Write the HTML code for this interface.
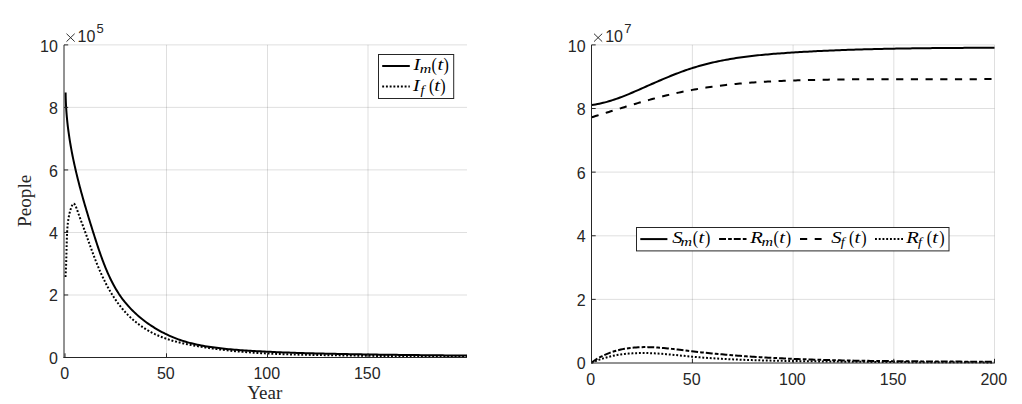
<!DOCTYPE html>
<html><head><meta charset="utf-8"><style>
html,body{margin:0;padding:0;background:#fff;}
body{width:1022px;height:404px;overflow:hidden;}
svg{display:block;}
.tk{font-family:"Liberation Sans",sans-serif;font-size:16px;fill:#262626;}
.lab{font-family:"Liberation Serif",serif;fill:#262626;}
.mi text{font-family:"Liberation Serif",serif;font-style:italic;fill:#000;}
.mi text.up{font-style:normal;}
</style></head><body>
<svg width="1022" height="404" viewBox="0 0 1022 404">
<rect width="1022" height="404" fill="#fff"/>
<path d="M166.5 44.9 V357.5 M267.5 44.9 V357.5 M368.0 44.9 V357.5" stroke="#262626" stroke-opacity="0.15" stroke-width="1" fill="none"/>
<path d="M64.0 295.0 H467.0 M64.0 232.5 H467.0 M64.0 169.9 H467.0 M64.0 107.4 H467.0 M64.0 44.9 H467.0" stroke="#262626" stroke-opacity="0.15" stroke-width="1" fill="none"/>
<path d="M65.60 92.39 L65.63 94.43 L65.67 96.46 L65.73 98.49 L65.79 100.52 L65.88 102.54 L65.97 104.56 L66.08 106.58 L66.20 108.59 L66.34 110.60 L66.48 112.60 L66.64 114.61 L66.81 116.60 L67.00 118.60 L67.19 120.59 L67.40 122.58 L67.62 124.56 L67.85 126.54 L68.10 128.52 L68.35 130.50 L68.61 132.47 L68.89 134.44 L69.18 136.41 L69.47 138.37 L69.78 140.34 L70.10 142.30 L70.43 144.25 L70.76 146.21 L71.11 148.16 L71.47 150.11 L71.83 152.06 L72.21 154.01 L72.59 155.96 L72.98 157.90 L73.39 159.84 L73.80 161.78 L74.22 163.72 L74.64 165.66 L75.08 167.59 L75.52 169.53 L75.97 171.46 L76.43 173.39 L76.89 175.32 L77.37 177.25 L77.85 179.18 L78.33 181.11 L78.83 183.04 L79.33 184.96 L79.83 186.89 L80.35 188.81 L80.86 190.74 L81.39 192.66 L81.92 194.58 L82.46 196.51 L83.00 198.43 L83.54 200.36 L84.09 202.28 L84.65 204.20 L85.21 206.13 L85.78 208.05 L86.35 209.97 L86.92 211.90 L87.50 213.82 L88.08 215.75 L88.67 217.67 L89.26 219.60 L89.85 221.53 L90.45 223.46 L91.05 225.39 L91.65 227.32 L92.25 229.25 L92.86 231.18 L93.47 233.11 L94.08 235.05 L94.70 236.98 L95.32 238.92 L95.94 240.85 L96.57 242.79 L97.20 244.72 L97.84 246.65 L98.49 248.58 L99.14 250.50 L99.80 252.42 L100.47 254.33 L101.15 256.24 L101.84 258.14 L102.54 260.04 L103.25 261.93 L103.97 263.81 L104.71 265.68 L105.46 267.54 L106.22 269.39 L107.00 271.24 L107.79 273.07 L108.61 274.89 L109.43 276.69 L110.28 278.49 L111.15 280.27 L112.04 282.04 L112.95 283.79 L113.89 285.53 L114.85 287.25 L115.83 288.95 L116.85 290.64 L117.89 292.31 L118.95 293.96 L120.05 295.59 L121.18 297.20 L122.34 298.80 L123.54 300.37 L124.76 301.92 L126.02 303.44 L127.31 304.95 L128.63 306.44 L129.98 307.90 L131.35 309.34 L132.75 310.75 L134.18 312.15 L135.64 313.52 L137.12 314.87 L138.63 316.19 L140.16 317.49 L141.71 318.76 L143.29 320.01 L144.89 321.23 L146.51 322.43 L148.14 323.60 L149.80 324.75 L151.48 325.87 L153.17 326.96 L154.88 328.03 L156.61 329.07 L158.35 330.08 L160.11 331.07 L161.88 332.02 L163.67 332.95 L165.47 333.85 L167.27 334.72 L169.09 335.56 L170.93 336.38 L172.76 337.16 L174.61 337.91 L176.47 338.64 L178.33 339.33 L180.20 339.99 L182.08 340.62 L183.96 341.22 L185.85 341.79 L187.74 342.34 L189.63 342.85 L191.54 343.34 L193.44 343.81 L195.36 344.25 L197.27 344.67 L199.19 345.07 L201.12 345.45 L203.05 345.81 L204.99 346.15 L206.93 346.47 L208.87 346.78 L210.82 347.07 L212.77 347.35 L214.72 347.61 L216.68 347.86 L218.65 348.11 L220.61 348.34 L222.58 348.56 L224.56 348.77 L226.53 348.97 L228.51 349.16 L230.50 349.34 L232.48 349.52 L234.47 349.68 L236.46 349.84 L238.46 350.00 L240.45 350.14 L242.45 350.28 L244.45 350.42 L246.46 350.55 L248.46 350.68 L250.47 350.80 L252.48 350.92 L254.49 351.04 L256.50 351.16 L258.52 351.27 L260.53 351.37 L262.55 351.48 L264.57 351.58 L266.59 351.68 L268.61 351.78 L270.63 351.87 L272.66 351.96 L274.68 352.05 L276.70 352.14 L278.73 352.22 L280.75 352.30 L282.78 352.38 L284.81 352.46 L286.83 352.54 L288.86 352.61 L290.88 352.68 L292.91 352.75 L294.94 352.82 L296.96 352.88 L298.99 352.95 L301.01 353.01 L303.04 353.07 L305.06 353.13 L307.08 353.18 L309.10 353.24 L311.12 353.29 L313.14 353.35 L315.16 353.40 L317.17 353.45 L319.19 353.50 L321.20 353.55 L323.21 353.60 L325.22 353.64 L327.23 353.69 L329.24 353.74 L331.24 353.78 L333.24 353.82 L335.24 353.87 L337.24 353.91 L339.24 353.95 L341.24 353.99 L343.24 354.03 L345.23 354.07 L347.22 354.11 L349.22 354.14 L351.21 354.18 L353.20 354.22 L355.19 354.25 L357.18 354.28 L359.16 354.32 L361.15 354.35 L363.14 354.38 L365.12 354.42 L367.11 354.45 L369.09 354.48 L371.08 354.51 L373.06 354.54 L375.05 354.57 L377.03 354.60 L379.01 354.63 L381.00 354.65 L382.98 354.68 L384.96 354.71 L386.95 354.73 L388.93 354.76 L390.91 354.79 L392.90 354.81 L394.88 354.84 L396.87 354.86 L398.85 354.89 L400.84 354.91 L402.82 354.93 L404.81 354.96 L406.80 354.98 L408.78 355.00 L410.77 355.02 L412.76 355.05 L414.75 355.07 L416.74 355.09 L418.74 355.11 L420.73 355.13 L422.72 355.15 L424.72 355.17 L426.72 355.19 L428.72 355.22 L430.72 355.24 L432.72 355.26 L434.72 355.28 L436.72 355.30 L438.73 355.32 L440.74 355.34 L442.75 355.36 L444.76 355.38 L446.77 355.40 L448.79 355.42 L450.80 355.44 L452.82 355.46 L454.84 355.48 L456.87 355.50 L458.89 355.52 L460.92 355.54 L462.95 355.56 L464.98 355.58 L467.02 355.60" stroke="#000" stroke-width="2" fill="none" stroke-linejoin="round"/>
<path d="M65.50 276.99 L65.62 275.07 L65.74 273.13 L65.84 271.18 L65.93 269.21 L66.02 267.23 L66.10 265.24 L66.17 263.24 L66.23 261.22 L66.29 259.20 L66.35 257.17 L66.40 255.14 L66.45 253.10 L66.50 251.05 L66.55 249.01 L66.60 246.96 L66.66 244.92 L66.71 242.87 L66.77 240.83 L66.83 238.79 L66.90 236.76 L66.98 234.74 L67.07 232.72 L67.19 230.71 L67.32 228.71 L67.48 226.72 L67.66 224.75 L67.88 222.79 L68.13 220.84 L68.42 218.91 L68.75 217.00 L69.13 215.10 L69.55 213.23 L70.03 211.38 L70.56 209.55 L71.15 207.75 L71.79 206.06 L72.48 204.69 L73.22 203.84 L73.98 203.71 L74.77 204.44 L75.57 205.89 L76.37 207.84 L77.18 210.06 L77.97 212.32 L78.74 214.50 L79.50 216.61 L80.25 218.64 L80.98 220.62 L81.71 222.56 L82.42 224.45 L83.12 226.32 L83.81 228.18 L84.49 230.03 L85.17 231.88 L85.84 233.73 L86.51 235.59 L87.17 237.44 L87.83 239.30 L88.49 241.15 L89.15 243.01 L89.82 244.86 L90.48 246.72 L91.15 248.58 L91.82 250.44 L92.50 252.30 L93.19 254.16 L93.89 256.02 L94.60 257.88 L95.31 259.75 L96.04 261.61 L96.79 263.47 L97.54 265.33 L98.32 267.19 L99.10 269.04 L99.90 270.90 L100.72 272.74 L101.55 274.58 L102.40 276.42 L103.26 278.24 L104.15 280.06 L105.05 281.87 L105.97 283.67 L106.90 285.46 L107.86 287.23 L108.84 288.99 L109.84 290.74 L110.86 292.47 L111.90 294.19 L112.96 295.89 L114.05 297.57 L115.16 299.23 L116.29 300.87 L117.44 302.50 L118.62 304.10 L119.83 305.68 L121.06 307.23 L122.31 308.77 L123.60 310.27 L124.91 311.75 L126.25 313.21 L127.61 314.64 L129.00 316.03 L130.43 317.40 L131.88 318.74 L133.36 320.04 L134.87 321.32 L136.41 322.56 L137.97 323.77 L139.57 324.95 L141.18 326.10 L142.82 327.21 L144.49 328.29 L146.17 329.34 L147.88 330.36 L149.61 331.34 L151.36 332.29 L153.13 333.20 L154.92 334.08 L156.73 334.92 L158.55 335.73 L160.39 336.51 L162.24 337.25 L164.11 337.96 L165.99 338.63 L167.89 339.27 L169.79 339.88 L171.71 340.46 L173.63 341.02 L175.57 341.55 L177.51 342.05 L179.47 342.53 L181.42 343.00 L183.39 343.44 L185.36 343.86 L187.33 344.27 L189.31 344.67 L191.29 345.05 L193.27 345.42 L195.25 345.78 L197.23 346.13 L199.21 346.47 L201.19 346.80 L203.18 347.12 L205.16 347.43 L207.15 347.74 L209.13 348.04 L211.11 348.32 L213.10 348.60 L215.09 348.87 L217.07 349.13 L219.06 349.39 L221.05 349.63 L223.03 349.87 L225.02 350.10 L227.01 350.33 L229.00 350.55 L230.99 350.75 L232.98 350.96 L234.97 351.15 L236.96 351.34 L238.95 351.52 L240.94 351.70 L242.93 351.87 L244.92 352.03 L246.92 352.19 L248.91 352.34 L250.90 352.49 L252.90 352.63 L254.89 352.76 L256.88 352.89 L258.88 353.02 L260.87 353.13 L262.87 353.25 L264.86 353.36 L266.86 353.46 L268.85 353.56 L270.85 353.66 L272.85 353.75 L274.84 353.84 L276.84 353.92 L278.84 354.00 L280.83 354.08 L282.83 354.15 L284.83 354.22 L286.83 354.29 L288.83 354.35 L290.82 354.41 L292.82 354.47 L294.82 354.53 L296.82 354.58 L298.82 354.63 L300.82 354.68 L302.82 354.72 L304.82 354.77 L306.82 354.81 L308.82 354.85 L310.82 354.89 L312.82 354.93 L314.82 354.96 L316.82 355.00 L318.83 355.03 L320.83 355.06 L322.83 355.10 L324.83 355.13 L326.83 355.16 L328.83 355.19 L330.84 355.22 L332.84 355.26 L334.84 355.29 L336.84 355.32 L338.85 355.35 L340.85 355.38 L342.85 355.41 L344.85 355.44 L346.86 355.48 L348.86 355.51 L350.86 355.54 L352.86 355.57 L354.87 355.60 L356.87 355.63 L358.87 355.66 L360.88 355.69 L362.88 355.72 L364.88 355.75 L366.89 355.78 L368.89 355.81 L370.89 355.84 L372.90 355.87 L374.90 355.90 L376.90 355.93 L378.91 355.96 L380.91 355.98 L382.91 356.01 L384.92 356.04 L386.92 356.07 L388.92 356.09 L390.93 356.12 L392.93 356.14 L394.93 356.17 L396.94 356.19 L398.94 356.22 L400.94 356.24 L402.95 356.26 L404.95 356.28 L406.95 356.31 L408.96 356.33 L410.96 356.35 L412.96 356.37 L414.96 356.39 L416.97 356.40 L418.97 356.42 L420.97 356.44 L422.97 356.46 L424.98 356.47 L426.98 356.49 L428.98 356.50 L430.98 356.51 L432.99 356.52 L434.99 356.54 L436.99 356.55 L438.99 356.56 L440.99 356.57 L442.99 356.57 L444.99 356.58 L447.00 356.59 L449.00 356.59 L451.00 356.60 L453.00 356.60 L455.00 356.60 L457.00 356.60 L459.00 356.60 L461.00 356.60 L463.00 356.60 L465.00 356.60 L467.00 356.59" stroke="#000" stroke-width="2" fill="none" stroke-dasharray="1.9 1.84"/>
<path d="M64.00 44.90 V358.00 M63.50 357.50 H467.00 M166.50 357.50 V353.30 M267.50 357.50 V353.30 M368.00 357.50 V353.30 M65.00 357.50 V353.30 M64.00 294.98 H68.20 M64.00 232.46 H68.20 M64.00 169.94 H68.20 M64.00 107.42 H68.20 M64.00 44.90 H68.20 M64.00 357.50 H68.20" stroke="#262626" stroke-width="1" fill="none"/>
<g class="tk"><text x="57.9" y="364.0" text-anchor="end">0</text><text x="57.9" y="301.0" text-anchor="end">2</text><text x="57.9" y="239.0" text-anchor="end">4</text><text x="57.9" y="177.0" text-anchor="end">6</text><text x="57.9" y="114.0" text-anchor="end">8</text><text x="57.9" y="52.0" text-anchor="end">10</text><text x="64.7" y="379.0" text-anchor="middle">0</text><text x="165.8" y="379.0" text-anchor="middle">50</text><text x="266.8" y="379.0" text-anchor="middle">100</text><text x="367.3" y="379.0" text-anchor="middle">150</text></g>
<path d="M66.5 33.7 L74.7 41.6 M74.7 33.7 L66.5 41.6" stroke="#262626" stroke-width="0.95" fill="none"/>
<text class="tk" x="77.6" y="41.7">10</text><text class="tk" style="font-size:13px" x="96.4" y="32.5">5</text>
<text class="lab" x="264.8" y="399.0" text-anchor="middle" font-size="19">Year</text>
<text class="lab" transform="translate(30.5 200.8) rotate(-90)" text-anchor="middle" font-size="19.2">People</text>
<rect x="378.5" y="54.5" width="75.2" height="44" fill="#fff" stroke="#262626" stroke-width="1"/>
<path d="M382.2 66 H409.8" stroke="#000" stroke-width="2"/>
<path d="M382.2 86.6 H409.8" stroke="#000" stroke-width="2" stroke-dasharray="1.9 1.84"/>
<g class="mi"><text transform="translate(413.50 69.90) scale(1.150 1.000)" font-size="17.2">I</text><text transform="translate(419.80 73.10) scale(1.300 1.000)" font-size="12.3">m</text><text class="up" transform="translate(431.60 71.00) scale(0.820 1.000)" font-size="19.5">(</text><text transform="translate(437.40 69.90) scale(1.200 1.000)" font-size="17.2">t</text><text class="up" transform="translate(443.40 71.00) scale(0.820 1.000)" font-size="19.5">)</text></g>
<g class="mi"><text transform="translate(413.00 90.50) scale(1.150 1.000)" font-size="17.2">I</text><text transform="translate(420.50 93.70) scale(1.150 1.000)" font-size="12.3">f</text><text class="up" transform="translate(428.90 91.60) scale(0.820 1.000)" font-size="19.5">(</text><text transform="translate(434.30 90.50) scale(1.200 1.000)" font-size="17.2">t</text><text class="up" transform="translate(440.30 91.60) scale(0.820 1.000)" font-size="19.5">)</text></g>
<path d="M692.4 44.9 V363.0 M793.1 44.9 V363.0 M893.8 44.9 V363.0 M994.5 44.9 V363.0" stroke="#262626" stroke-opacity="0.15" stroke-width="1" fill="none"/>
<path d="M591.5 299.4 H994.5 M591.5 235.8 H994.5 M591.5 172.1 H994.5 M591.5 108.5 H994.5 M591.5 44.9 H994.5" stroke="#262626" stroke-opacity="0.15" stroke-width="1" fill="none"/>
<path d="M591.76 104.94 L593.67 104.68 L595.57 104.39 L597.47 104.06 L599.37 103.69 L601.26 103.28 L603.15 102.84 L605.04 102.36 L606.93 101.86 L608.81 101.32 L610.69 100.75 L612.57 100.15 L614.44 99.53 L616.31 98.89 L618.19 98.22 L620.06 97.53 L621.92 96.82 L623.79 96.09 L625.66 95.35 L627.52 94.59 L629.39 93.82 L631.25 93.03 L633.11 92.24 L634.98 91.44 L636.84 90.62 L638.70 89.81 L640.56 88.99 L642.43 88.16 L644.29 87.33 L646.15 86.51 L648.02 85.68 L649.88 84.86 L651.75 84.03 L653.62 83.21 L655.48 82.39 L657.35 81.58 L659.22 80.77 L661.10 79.96 L662.97 79.16 L664.85 78.37 L666.72 77.58 L668.60 76.81 L670.48 76.04 L672.37 75.28 L674.25 74.53 L676.14 73.79 L678.03 73.07 L679.92 72.35 L681.82 71.65 L683.71 70.97 L685.61 70.30 L687.52 69.64 L689.42 69.00 L691.33 68.38 L693.25 67.77 L695.16 67.18 L697.08 66.61 L699.00 66.05 L700.93 65.51 L702.85 64.98 L704.78 64.47 L706.72 63.97 L708.65 63.49 L710.59 63.02 L712.53 62.57 L714.47 62.13 L716.42 61.70 L718.37 61.29 L720.32 60.89 L722.27 60.50 L724.23 60.12 L726.19 59.76 L728.15 59.41 L730.11 59.07 L732.07 58.74 L734.04 58.42 L736.00 58.11 L737.97 57.81 L739.95 57.52 L741.92 57.24 L743.89 56.98 L745.87 56.72 L747.85 56.46 L749.83 56.22 L751.81 55.99 L753.80 55.76 L755.78 55.54 L757.77 55.33 L759.75 55.13 L761.74 54.93 L763.73 54.74 L765.72 54.56 L767.72 54.38 L769.71 54.20 L771.70 54.04 L773.70 53.87 L775.69 53.72 L777.69 53.56 L779.69 53.42 L781.69 53.27 L783.69 53.13 L785.69 52.99 L787.69 52.86 L789.69 52.72 L791.69 52.60 L793.69 52.47 L795.70 52.34 L797.70 52.22 L799.70 52.10 L801.71 51.98 L803.71 51.87 L805.71 51.76 L807.72 51.64 L809.73 51.54 L811.73 51.43 L813.74 51.33 L815.74 51.22 L817.75 51.12 L819.76 51.03 L821.77 50.93 L823.77 50.84 L825.78 50.74 L827.79 50.65 L829.80 50.57 L831.81 50.48 L833.82 50.40 L835.83 50.31 L837.84 50.23 L839.85 50.16 L841.86 50.08 L843.87 50.00 L845.88 49.93 L847.89 49.86 L849.90 49.79 L851.91 49.72 L853.92 49.66 L855.93 49.59 L857.95 49.53 L859.96 49.47 L861.97 49.41 L863.98 49.35 L865.99 49.29 L868.01 49.24 L870.02 49.18 L872.03 49.13 L874.04 49.08 L876.06 49.03 L878.07 48.98 L880.08 48.94 L882.09 48.89 L884.11 48.85 L886.12 48.81 L888.13 48.76 L890.14 48.72 L892.16 48.68 L894.17 48.65 L896.18 48.61 L898.19 48.57 L900.20 48.54 L902.22 48.51 L904.23 48.47 L906.24 48.44 L908.25 48.41 L910.26 48.38 L912.27 48.35 L914.29 48.33 L916.30 48.30 L918.31 48.27 L920.32 48.25 L922.33 48.23 L924.34 48.20 L926.35 48.18 L928.36 48.16 L930.37 48.14 L932.38 48.12 L934.39 48.10 L936.40 48.08 L938.41 48.06 L940.41 48.04 L942.42 48.02 L944.43 48.01 L946.44 47.99 L948.44 47.98 L950.45 47.96 L952.46 47.95 L954.46 47.93 L956.47 47.92 L958.47 47.91 L960.48 47.89 L962.48 47.88 L964.49 47.87 L966.49 47.86 L968.49 47.84 L970.50 47.83 L972.50 47.82 L974.50 47.81 L976.50 47.80 L978.50 47.79 L980.50 47.78 L982.50 47.77 L984.50 47.76 L986.50 47.75 L988.50 47.73 L990.49 47.72 L992.49 47.71 L994.49 47.70" stroke="#000" stroke-width="2" fill="none"/>
<path d="M591.71 117.26 L593.61 116.67 L595.52 116.08 L597.42 115.49 L599.32 114.90 L601.23 114.30 L603.14 113.71 L605.05 113.11 L606.96 112.51 L608.87 111.92 L610.78 111.32 L612.70 110.72 L614.62 110.13 L616.54 109.53 L618.46 108.94 L620.38 108.35 L622.30 107.76 L624.22 107.17 L626.15 106.58 L628.08 106.00 L630.00 105.42 L631.93 104.85 L633.87 104.27 L635.80 103.71 L637.73 103.14 L639.67 102.58 L641.60 102.03 L643.54 101.48 L645.48 100.93 L647.42 100.39 L649.36 99.86 L651.31 99.33 L653.25 98.81 L655.20 98.29 L657.14 97.78 L659.09 97.28 L661.04 96.78 L662.99 96.29 L664.94 95.81 L666.89 95.33 L668.85 94.86 L670.80 94.40 L672.76 93.95 L674.71 93.50 L676.67 93.07 L678.63 92.64 L680.59 92.22 L682.55 91.80 L684.52 91.40 L686.48 91.00 L688.45 90.62 L690.41 90.24 L692.38 89.88 L694.35 89.52 L696.31 89.17 L698.28 88.83 L700.25 88.50 L702.23 88.18 L704.20 87.86 L706.17 87.56 L708.15 87.26 L710.12 86.97 L712.10 86.69 L714.08 86.42 L716.05 86.16 L718.03 85.90 L720.01 85.65 L721.99 85.41 L723.98 85.18 L725.96 84.95 L727.94 84.73 L729.93 84.52 L731.91 84.31 L733.90 84.11 L735.88 83.92 L737.87 83.73 L739.86 83.55 L741.85 83.37 L743.84 83.20 L745.83 83.04 L747.82 82.88 L749.81 82.73 L751.80 82.58 L753.79 82.44 L755.79 82.30 L757.78 82.17 L759.78 82.04 L761.77 81.92 L763.77 81.80 L765.77 81.69 L767.76 81.58 L769.76 81.47 L771.76 81.37 L773.76 81.27 L775.76 81.18 L777.76 81.09 L779.76 81.00 L781.76 80.91 L783.76 80.83 L785.76 80.75 L787.77 80.68 L789.77 80.61 L791.77 80.54 L793.78 80.47 L795.78 80.40 L797.79 80.34 L799.79 80.28 L801.80 80.22 L803.80 80.16 L805.81 80.11 L807.82 80.05 L809.82 80.00 L811.83 79.95 L813.84 79.91 L815.85 79.86 L817.85 79.82 L819.86 79.78 L821.87 79.74 L823.88 79.70 L825.89 79.67 L827.90 79.63 L829.91 79.60 L831.92 79.57 L833.93 79.54 L835.94 79.52 L837.95 79.49 L839.96 79.47 L841.98 79.44 L843.99 79.42 L846.00 79.40 L848.01 79.38 L850.02 79.36 L852.03 79.35 L854.05 79.33 L856.06 79.32 L858.07 79.31 L860.08 79.29 L862.10 79.28 L864.11 79.27 L866.12 79.27 L868.13 79.26 L870.15 79.25 L872.16 79.25 L874.17 79.24 L876.18 79.24 L878.20 79.23 L880.21 79.23 L882.22 79.23 L884.23 79.23 L886.25 79.22 L888.26 79.22 L890.27 79.22 L892.28 79.22 L894.29 79.22 L896.31 79.23 L898.32 79.23 L900.33 79.23 L902.34 79.23 L904.35 79.23 L906.36 79.24 L908.37 79.24 L910.38 79.24 L912.39 79.25 L914.40 79.25 L916.41 79.25 L918.42 79.26 L920.43 79.26 L922.44 79.26 L924.45 79.27 L926.46 79.27 L928.47 79.27 L930.47 79.27 L932.48 79.27 L934.49 79.28 L936.49 79.28 L938.50 79.28 L940.51 79.28 L942.51 79.28 L944.52 79.28 L946.52 79.28 L948.53 79.28 L950.53 79.27 L952.53 79.27 L954.54 79.27 L956.54 79.26 L958.54 79.26 L960.54 79.25 L962.54 79.24 L964.54 79.24 L966.54 79.23 L968.54 79.22 L970.54 79.21 L972.54 79.19 L974.54 79.18 L976.53 79.17 L978.53 79.15 L980.53 79.13 L982.52 79.12 L984.52 79.10 L986.51 79.08 L988.50 79.06 L990.50 79.03 L992.49 79.01 L994.48 78.98" stroke="#000" stroke-width="2" fill="none" stroke-dasharray="7.2 7.5"/>
<path d="M591.63 362.45 L593.39 361.23 L595.16 360.07 L596.93 358.97 L598.72 357.93 L600.52 356.95 L602.33 356.02 L604.14 355.14 L605.97 354.32 L607.80 353.56 L609.64 352.84 L611.49 352.17 L613.35 351.55 L615.21 350.98 L617.08 350.45 L618.96 349.97 L620.85 349.52 L622.74 349.13 L624.64 348.77 L626.55 348.45 L628.46 348.17 L630.38 347.92 L632.31 347.71 L634.24 347.53 L636.18 347.39 L638.12 347.28 L640.07 347.19 L642.02 347.14 L643.97 347.11 L645.94 347.11 L647.90 347.13 L649.87 347.18 L651.84 347.25 L653.82 347.34 L655.80 347.45 L657.79 347.58 L659.77 347.72 L661.76 347.88 L663.76 348.05 L665.75 348.24 L667.75 348.44 L669.75 348.65 L671.75 348.87 L673.75 349.09 L675.76 349.33 L677.76 349.56 L679.77 349.80 L681.78 350.05 L683.78 350.29 L685.79 350.54 L687.80 350.78 L689.81 351.02 L691.82 351.26 L693.83 351.49 L695.84 351.72 L697.85 351.95 L699.85 352.17 L701.86 352.39 L703.87 352.60 L705.88 352.81 L707.88 353.02 L709.89 353.22 L711.90 353.42 L713.91 353.61 L715.91 353.80 L717.92 353.99 L719.93 354.18 L721.93 354.36 L723.94 354.53 L725.95 354.71 L727.95 354.88 L729.96 355.05 L731.96 355.21 L733.97 355.37 L735.97 355.53 L737.98 355.68 L739.98 355.83 L741.99 355.98 L743.99 356.13 L746.00 356.27 L748.00 356.41 L750.01 356.55 L752.01 356.68 L754.02 356.81 L756.02 356.94 L758.03 357.06 L760.03 357.19 L762.04 357.31 L764.04 357.42 L766.04 357.54 L768.05 357.65 L770.05 357.76 L772.05 357.87 L774.06 357.97 L776.06 358.07 L778.07 358.17 L780.07 358.27 L782.07 358.37 L784.08 358.46 L786.08 358.55 L788.08 358.64 L790.08 358.73 L792.09 358.82 L794.09 358.90 L796.09 358.98 L798.10 359.06 L800.10 359.14 L802.10 359.22 L804.10 359.29 L806.11 359.36 L808.11 359.43 L810.11 359.50 L812.11 359.57 L814.12 359.63 L816.12 359.70 L818.12 359.76 L820.12 359.82 L822.13 359.88 L824.13 359.94 L826.13 359.99 L828.13 360.05 L830.14 360.10 L832.14 360.15 L834.14 360.20 L836.14 360.25 L838.15 360.30 L840.15 360.34 L842.15 360.39 L844.15 360.43 L846.15 360.47 L848.16 360.51 L850.16 360.55 L852.16 360.59 L854.16 360.63 L856.17 360.66 L858.17 360.70 L860.17 360.73 L862.17 360.77 L864.18 360.80 L866.18 360.83 L868.18 360.86 L870.18 360.89 L872.19 360.91 L874.19 360.94 L876.19 360.97 L878.19 360.99 L880.20 361.02 L882.20 361.04 L884.20 361.06 L886.21 361.09 L888.21 361.11 L890.21 361.13 L892.21 361.15 L894.22 361.17 L896.22 361.19 L898.22 361.20 L900.23 361.22 L902.23 361.24 L904.23 361.25 L906.24 361.27 L908.24 361.29 L910.25 361.30 L912.25 361.32 L914.25 361.33 L916.26 361.35 L918.26 361.36 L920.26 361.37 L922.27 361.39 L924.27 361.40 L926.28 361.41 L928.28 361.42 L930.29 361.44 L932.29 361.45 L934.30 361.46 L936.30 361.47 L938.31 361.48 L940.31 361.50 L942.32 361.51 L944.32 361.52 L946.33 361.53 L948.33 361.54 L950.34 361.56 L952.35 361.57 L954.35 361.58 L956.36 361.59 L958.36 361.61 L960.37 361.62 L962.38 361.63 L964.38 361.65 L966.39 361.66 L968.40 361.68 L970.41 361.69 L972.41 361.71 L974.42 361.72 L976.43 361.74 L978.44 361.75 L980.44 361.77 L982.45 361.79 L984.46 361.81 L986.47 361.82 L988.48 361.84 L990.49 361.86 L992.50 361.88 L994.50 361.90" stroke="#000" stroke-width="2" fill="none" stroke-dasharray="6.9 2.1 3.7 2.0"/>
<path d="M591.61 362.74 L593.55 361.91 L595.49 361.11 L597.43 360.37 L599.38 359.66 L601.32 359.00 L603.27 358.38 L605.22 357.79 L607.17 357.25 L609.11 356.75 L611.07 356.28 L613.02 355.85 L614.97 355.45 L616.93 355.09 L618.88 354.76 L620.84 354.47 L622.79 354.20 L624.75 353.97 L626.71 353.76 L628.67 353.58 L630.64 353.43 L632.60 353.31 L634.56 353.20 L636.53 353.13 L638.49 353.08 L640.46 353.04 L642.43 353.03 L644.40 353.04 L646.36 353.07 L648.34 353.12 L650.31 353.18 L652.28 353.26 L654.25 353.35 L656.23 353.46 L658.20 353.58 L660.18 353.72 L662.15 353.86 L664.13 354.01 L666.11 354.18 L668.09 354.35 L670.07 354.53 L672.05 354.71 L674.03 354.90 L676.01 355.09 L678.00 355.28 L679.98 355.48 L681.96 355.68 L683.95 355.87 L685.94 356.07 L687.92 356.26 L689.91 356.45 L691.90 356.64 L693.89 356.82 L695.88 357.00 L697.87 357.17 L699.86 357.33 L701.85 357.49 L703.84 357.65 L705.83 357.80 L707.83 357.94 L709.82 358.08 L711.81 358.22 L713.81 358.35 L715.81 358.48 L717.80 358.60 L719.80 358.72 L721.80 358.83 L723.79 358.94 L725.79 359.05 L727.79 359.15 L729.79 359.25 L731.79 359.35 L733.79 359.44 L735.79 359.53 L737.79 359.61 L739.79 359.69 L741.79 359.77 L743.80 359.85 L745.80 359.92 L747.80 359.99 L749.80 360.06 L751.81 360.12 L753.81 360.18 L755.82 360.24 L757.82 360.30 L759.83 360.35 L761.83 360.41 L763.84 360.46 L765.84 360.50 L767.85 360.55 L769.86 360.60 L771.86 360.64 L773.87 360.68 L775.88 360.72 L777.88 360.76 L779.89 360.80 L781.90 360.84 L783.91 360.87 L785.92 360.91 L787.92 360.94 L789.93 360.97 L791.94 361.01 L793.95 361.04 L795.96 361.07 L797.97 361.10 L799.98 361.13 L801.99 361.16 L804.00 361.19 L806.01 361.22 L808.02 361.25 L810.03 361.28 L812.04 361.30 L814.05 361.33 L816.06 361.36 L818.07 361.38 L820.08 361.41 L822.09 361.43 L824.10 361.46 L826.11 361.48 L828.12 361.50 L830.13 361.53 L832.14 361.55 L834.15 361.57 L836.16 361.59 L838.17 361.61 L840.18 361.64 L842.19 361.66 L844.20 361.68 L846.21 361.70 L848.22 361.72 L850.23 361.73 L852.24 361.75 L854.25 361.77 L856.26 361.79 L858.27 361.81 L860.28 361.82 L862.29 361.84 L864.30 361.86 L866.31 361.87 L868.32 361.89 L870.33 361.90 L872.34 361.92 L874.35 361.93 L876.35 361.95 L878.36 361.96 L880.37 361.97 L882.38 361.99 L884.39 362.00 L886.40 362.01 L888.41 362.03 L890.42 362.04 L892.42 362.05 L894.43 362.06 L896.44 362.07 L898.45 362.08 L900.45 362.09 L902.46 362.10 L904.47 362.11 L906.47 362.12 L908.48 362.13 L910.49 362.14 L912.49 362.15 L914.50 362.16 L916.50 362.17 L918.51 362.18 L920.52 362.19 L922.52 362.20 L924.52 362.20 L926.53 362.21 L928.53 362.22 L930.54 362.23 L932.54 362.23 L934.54 362.24 L936.55 362.25 L938.55 362.25 L940.55 362.26 L942.55 362.27 L944.55 362.27 L946.56 362.28 L948.56 362.29 L950.56 362.29 L952.56 362.30 L954.56 362.30 L956.56 362.31 L958.56 362.31 L960.56 362.32 L962.55 362.33 L964.55 362.33 L966.55 362.34 L968.55 362.34 L970.54 362.35 L972.54 362.35 L974.54 362.35 L976.53 362.36 L978.53 362.36 L980.52 362.37 L982.52 362.37 L984.51 362.38 L986.51 362.38 L988.50 362.39 L990.49 362.39 L992.48 362.40 L994.47 362.40" stroke="#000" stroke-width="2" fill="none" stroke-dasharray="1.9 1.84"/>
<path d="M591.50 44.90 V363.50 M591.00 363.00 H994.50 M692.40 363.00 V358.80 M793.10 363.00 V358.80 M893.80 363.00 V358.80 M994.50 363.00 V358.80 M591.50 299.38 H595.70 M591.50 235.76 H595.70 M591.50 172.14 H595.70 M591.50 108.52 H595.70 M591.50 44.90 H595.70" stroke="#262626" stroke-width="1" fill="none"/>
<g class="tk"><text x="585.6" y="369.0" text-anchor="end">0</text><text x="585.6" y="306.0" text-anchor="end">2</text><text x="585.6" y="242.0" text-anchor="end">4</text><text x="585.6" y="179.0" text-anchor="end">6</text><text x="585.6" y="115.0" text-anchor="end">8</text><text x="585.6" y="52.0" text-anchor="end">10</text><text x="590.8" y="385.0" text-anchor="middle">0</text><text x="691.7" y="385.0" text-anchor="middle">50</text><text x="792.4" y="385.0" text-anchor="middle">100</text><text x="893.1" y="385.0" text-anchor="middle">150</text><text x="993.8" y="385.0" text-anchor="middle">200</text></g>
<path d="M594.0 33.7 L602.2 41.6 M602.2 33.7 L594.0 41.6" stroke="#262626" stroke-width="0.95" fill="none"/>
<text class="tk" x="605.2" y="41.7">10</text><text class="tk" style="font-size:13px" x="624.2" y="32.8">7</text>
<rect x="636.5" y="227.5" width="312.5" height="23.4" fill="#fff" stroke="#262626" stroke-width="1"/>
<path d="M640.3 239.1 H667.4" stroke="#000" stroke-width="2"/>
<path d="M719.1 239.1 H746.6" stroke="#000" stroke-width="2" stroke-dasharray="6.9 2.1 3.7 2.0"/>
<path d="M800 239.1 H821.6" stroke="#000" stroke-width="2" stroke-dasharray="7.2 7.5"/>
<path d="M875 239.1 H903" stroke="#000" stroke-width="2" stroke-dasharray="1.9 1.84"/>
<g class="mi"><text transform="translate(672.20 243.00) scale(1.200 1.000)" font-size="17.2">S</text><text transform="translate(680.60 246.20) scale(1.300 1.000)" font-size="12.3">m</text><text class="up" transform="translate(692.80 244.10) scale(0.820 1.000)" font-size="19.5">(</text><text transform="translate(698.60 243.00) scale(1.200 1.000)" font-size="17.2">t</text><text class="up" transform="translate(704.90 244.10) scale(0.820 1.000)" font-size="19.5">)</text></g>
<g class="mi"><text transform="translate(750.20 243.00) scale(1.200 1.000)" font-size="17.2">R</text><text transform="translate(761.40 246.20) scale(1.300 1.000)" font-size="12.3">m</text><text class="up" transform="translate(773.50 244.10) scale(0.820 1.000)" font-size="19.5">(</text><text transform="translate(779.30 243.00) scale(1.200 1.000)" font-size="17.2">t</text><text class="up" transform="translate(785.70 244.10) scale(0.820 1.000)" font-size="19.5">)</text></g>
<g class="mi"><text transform="translate(831.20 243.00) scale(1.200 1.000)" font-size="17.2">S</text><text transform="translate(840.70 246.20) scale(1.150 1.000)" font-size="12.3">f</text><text class="up" transform="translate(849.00 244.10) scale(0.820 1.000)" font-size="19.5">(</text><text transform="translate(854.50 243.00) scale(1.200 1.000)" font-size="17.2">t</text><text class="up" transform="translate(861.20 244.10) scale(0.820 1.000)" font-size="19.5">)</text></g>
<g class="mi"><text transform="translate(906.20 243.00) scale(1.200 1.000)" font-size="17.2">R</text><text transform="translate(918.10 246.20) scale(1.150 1.000)" font-size="12.3">f</text><text class="up" transform="translate(926.80 244.10) scale(0.820 1.000)" font-size="19.5">(</text><text transform="translate(932.20 243.00) scale(1.200 1.000)" font-size="17.2">t</text><text class="up" transform="translate(939.20 244.10) scale(0.820 1.000)" font-size="19.5">)</text></g>
</svg>
</body></html>
